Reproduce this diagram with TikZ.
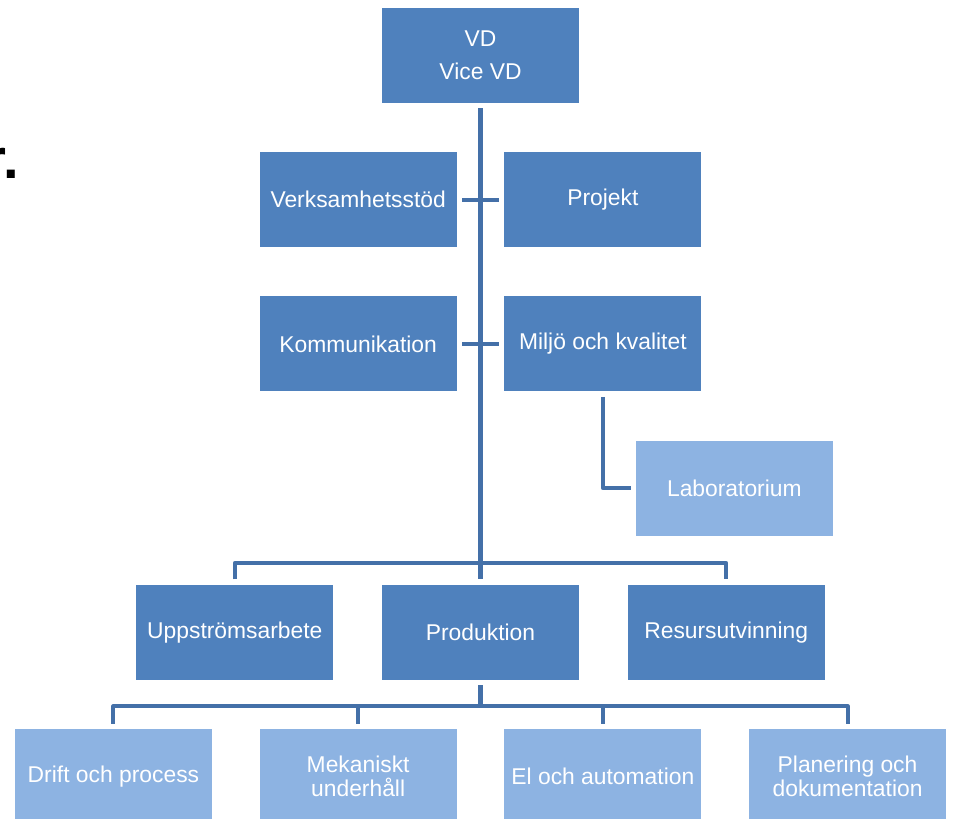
\documentclass[tikz,border=0pt]{standalone}
\usepackage{fontspec}
\setmainfont{Liberation Sans}
\usetikzlibrary{positioning, calc}

\definecolor{boxblue}{HTML}{4F81BD}
\definecolor{lightblue}{HTML}{8DB3E2}
\definecolor{linkblue}{HTML}{4470A8}

\begin{document}
\begin{tikzpicture}[
    node distance = 0.97cm and 0.94cm,
    every node/.style={font=\fontsize{13}{15.5}\selectfont},
    box/.style={rectangle, fill=boxblue, text=white, align=center, minimum width=3.94cm, minimum height=1.9cm, inner sep=2pt},
    subbox/.style={box, fill=lightblue},
    link/.style={draw=linkblue, line width=2.3pt, line join=round, shorten <=0.1cm, shorten >=0.1cm},
    drop/.style={draw=linkblue, line width=2.3pt, line join=round, shorten <=0.1cm}
]
\useasboundingbox (0,0) rectangle (19.06,-16.38);

% cut-off text at the left edge
\node[font=\fontsize{32}{38}\selectfont\bfseries, anchor=base west, inner sep=0pt] (frag) at (-0.31,-3.58) {r.};

% top box
\node[box, font=\fontsize{13}{18.7}\selectfont] (vd) at (9.61,-1.11) {VD\\Vice VD};

% staff units
\node[box, below left=0.97cm and 0.47cm of vd.south] (verk) {Verksamhetsstöd};
\node[box, below right=0.97cm and 0.47cm of vd.south] (proj) {Projekt};
\node[box, below=of verk] (komm) {Kommunikation};
\node[box, below=of proj] (milj) {Miljö och kvalitet};
\node[subbox, below=of milj, xshift=2.63cm] (lab) {Laboratorium};

% middle row
\coordinate (midrow) at (vd |- lab.south);
\node[box, below=of midrow] (prod) {Produktion};
\node[box, left=0.96cm of prod] (upp) {Uppströmsarbete};
\node[box, right=0.96cm of prod] (res) {Resursutvinning};

% bottom row
\node[subbox, font=\fontsize{13}{13.6}\selectfont, below left=0.97cm and 0.47cm of prod.south] (mek) {Mekaniskt\\underhåll};
\node[subbox, below right=0.97cm and 0.47cm of prod.south] (el) {El och automation};
\node[subbox, left=of mek] (drift) {Drift och process};
\node[subbox, font=\fontsize{13}{13.6}\selectfont, right=of el] (plan) {Planering och\\dokumentation};

% connectors
\coordinate (midbar) at ($(prod.north)+(0,0.43)$);
\coordinate (botbar) at ($(prod.south)+(0,-0.52)$);

\draw[link] (vd.south) -- (prod.north);
\draw[link] (verk.east) -- (proj.west);
\draw[link] (komm.east) -- (milj.west);
\draw[link] (milj.south) |- (lab.west);

\draw[link] (upp.north) -- (upp.north |- midbar) -- (res.north |- midbar) -- (res.north);

\draw[drop] (prod.south) -- (botbar);
\draw[link] (drift.north) -- (drift.north |- botbar) -- (plan.north |- botbar) -- (plan.north);
\draw[drop] (mek.north) -- (mek.north |- botbar);
\draw[drop] (el.north) -- (el.north |- botbar);

\end{tikzpicture}
\end{document}
